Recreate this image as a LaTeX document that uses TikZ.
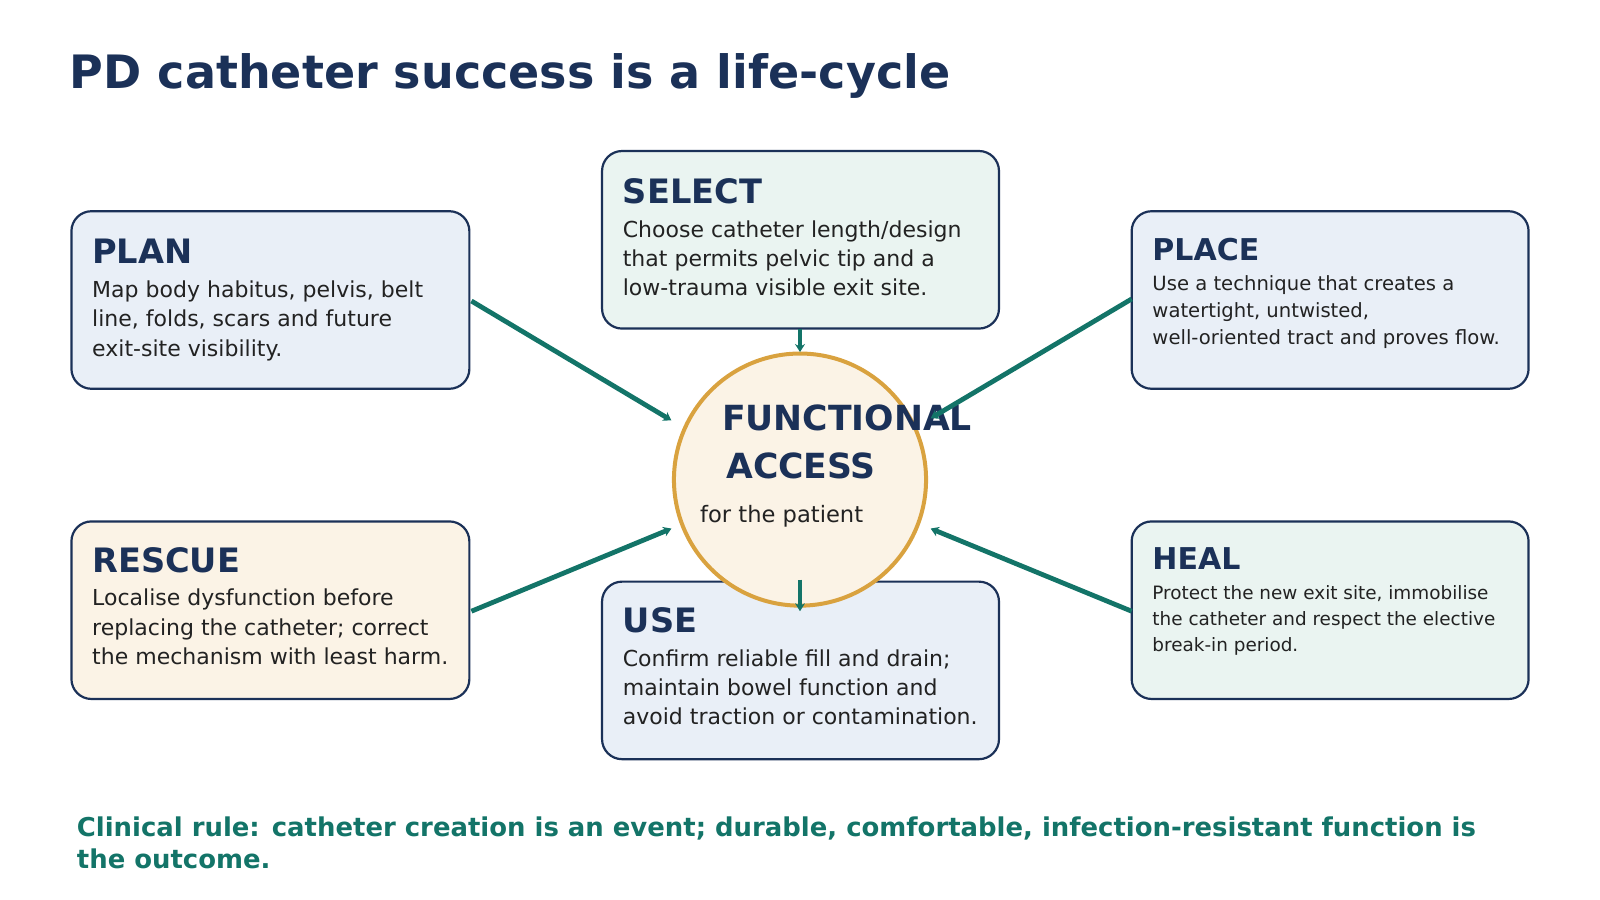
\documentclass[tikz,border=0pt]{standalone}
\usepackage{fontspec}
\setmainfont{DejaVu Sans}
\usetikzlibrary{arrows.meta}
\definecolor{navy}{HTML}{1B3158}
\definecolor{teal}{HTML}{137468}
\definecolor{fblue}{HTML}{E9EFF7}
\definecolor{fgreen}{HTML}{EAF4F1}
\definecolor{fcream}{HTML}{FBF3E6}
\definecolor{gold}{HTML}{D9A23F}
\definecolor{ink}{HTML}{222222}
\begin{document}
\begin{tikzpicture}[x=0.51pt,y=-0.51pt,
  box/.style={draw=navy,line width=1.1pt,rounded corners=10pt},
  head/.style={anchor=base west,font=\bfseries\fontsize{16.8}{18}\selectfont,text=navy,inner sep=0},
  heads/.style={head,font=\bfseries\fontsize{15}{18}\selectfont},
  body/.style={anchor=north west,font=\fontsize{11}{14.6}\selectfont,text=ink,inner sep=0,align=left},
  small/.style={anchor=north west,font=\fontsize{9.8}{13.5}\selectfont,text=ink,inner sep=0,align=left},
  smaller/.style={small,font=\fontsize{9.2}{13}\selectfont},
  conn/.style={draw=teal,line width=2.4pt,-{Stealth[length=4pt,width=5pt]}}]
\useasboundingbox (0,0) rectangle (1568,882);
\node[anchor=base west,inner sep=0,font=\bfseries\fontsize{23}{26}\selectfont,text=navy] (title) at (68,87) {PD catheter success is a life-cycle};
% boxes
\draw[box,fill=fblue] (70,207) rectangle (460,381);
\coordinate (planE) at (462,295);
\node[head] (planh) at (90,258) {PLAN};
\node[body] (planb) at (90,275) {Map body habitus, pelvis, belt\\line, folds, scars and future\\exit-site visibility.};
\draw[box,fill=fgreen] (590,148) rectangle (979,322);
\coordinate (selS) at (784,322);
\node[head] (selh) at (610,199) {SELECT};
\node[body] (selb) at (610,216) {Choose catheter length/design\\that permits pelvic tip and a\\low-trauma visible exit site.};
\draw[box,fill=fblue] (1109,207) rectangle (1498,381);
\coordinate (placeW) at (1109,293);
\node[heads] (placeh) at (1129,255) {PLACE};
\node[small] (placeb) at (1129,270) {Use a technique that creates a\\watertight, untwisted,\\well-oriented tract and proves flow.};
\draw[box,fill=fcream] (70,511) rectangle (460,685);
\coordinate (resE) at (462,599);
\node[head] (resh) at (90,561) {RESCUE};
\node[body] (resb) at (90,577) {Localise dysfunction before\\replacing the catheter; correct\\the mechanism with least harm.};
\draw[box,fill=fblue] (590,570) rectangle (979,744);
\coordinate (useN) at (784,568);
\node[head] (useh) at (610,620) {USE};
\node[body] (useb) at (610,636) {Confirm reliable fill and drain;\\maintain bowel function and\\avoid traction or contamination.};
\draw[box,fill=fgreen] (1109,511) rectangle (1498,685);
\coordinate (healW) at (1109,599);
\node[heads] (healh) at (1129,558) {HEAL};
\node[smaller] (healb) at (1129,573) {Protect the new exit site, immobilise\\the catheter and respect the elective\\break-in period.};
% circle
\node[circle,draw=gold,line width=2pt,fill=fcream,minimum size=126pt,inner sep=0] (hub) at (784,470) {};
\node[inner sep=0,anchor=base,font=\bfseries\fontsize{17.3}{20}\selectfont,text=navy] (h1) at (830,422) {FUNCTIONAL};
\node[inner sep=0,anchor=base,font=\bfseries\fontsize{17.3}{20}\selectfont,text=navy] (h2) at (785,469) {ACCESS};
\node[inner sep=0,anchor=base,font=\fontsize{11.3}{13}\selectfont,text=ink] (h3) at (766,512) {for the patient};
% connectors
\coordinate (t1) at (658,412); \coordinate (t2) at (784,345); \coordinate (t3) at (912,410);
\coordinate (t4) at (658,518); \coordinate (t5) at (784,599); \coordinate (t6) at (912,518);
\draw[conn] (planE) -- (t1);
\draw[conn] (selS) -- (t2);
\draw[conn] (placeW) -- (t3);
\draw[conn] (resE) -- (t4);
\draw[conn] (useN) -- (t5);
\draw[conn] (healW) -- (t6);
\node[anchor=north west,inner sep=0,align=left,font=\bfseries\fontsize{12.95}{16}\selectfont,text=teal] (foot) at (75,800) {Clinical rule: catheter creation is an event; durable, comfortable, infection-resistant function is\\the outcome.};
\end{tikzpicture}
\end{document}
